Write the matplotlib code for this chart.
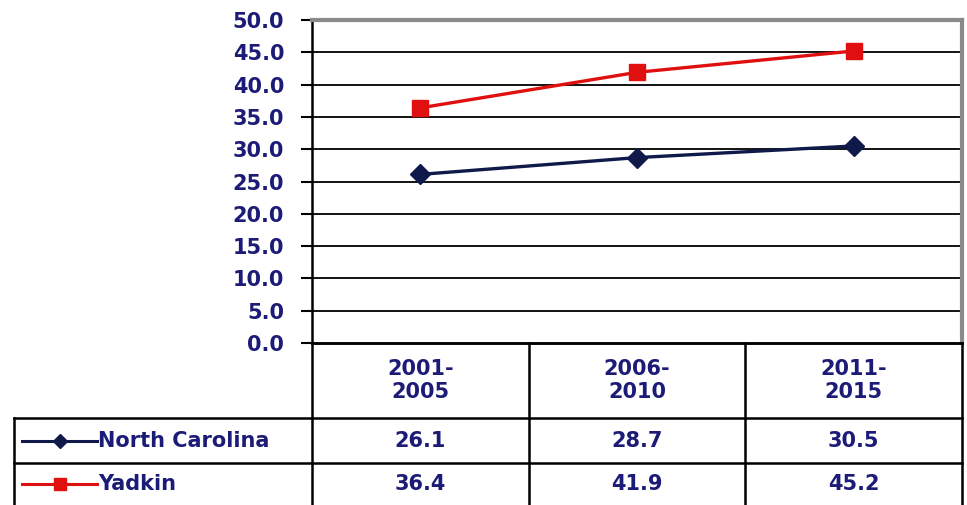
import matplotlib
matplotlib.use("Agg")
import matplotlib.pyplot as plt
from matplotlib.lines import Line2D

# —— data —— #
periods = ["2001-\n2005", "2006-\n2010", "2011-\n2015"]
nc_vals = [26.1, 28.7, 30.5]
yadkin_vals = [36.4, 41.9, 45.2]
series_names = ["North Carolina", "Yadkin"]
y_ticks = [0, 5, 10, 15, 20, 25, 30, 35, 40, 45, 50]

NAVY = "#0f1a4a"
RED = "#e01010"
TXT = "#1c1c78"
W, H = 967, 505

plt.rcParams["font.family"] = ["DejaVu Sans"]
fig = plt.figure(figsize=(W / 100, H / 100), dpi=100)

# pixel layout
px_left, px_right, px_top, px_zero = 312, 962, 20, 343
tbl_left = 14
row_bounds = [343, 418, 463, 510]

ax = fig.add_axes([px_left / W, (H - px_zero) / H,
                   (px_right - px_left) / W, (px_zero - px_top) / H])
x = list(range(len(periods)))
ax.plot(x, nc_vals, color=NAVY, lw=2.4, marker="D", ms=10, zorder=3)
ax.plot(x, yadkin_vals, color=RED, lw=2.4, marker="s", ms=11, zorder=3)
ax.set_xlim(-0.5, len(periods) - 0.5)
ax.set_ylim(0, 50)
ax.set_yticks(y_ticks)
ax.set_yticklabels([f"{v:.1f}" for v in y_ticks], fontsize=15,
                   fontweight="bold", color=TXT)
ax.tick_params(axis="y", length=8, width=1.5, color="black", pad=12)
ax.set_xticks([])
for v in y_ticks[1:-1]:
    ax.axhline(v, color="black", lw=1.3, zorder=1)
ax.spines["left"].set_linewidth(1.8)
ax.spines["bottom"].set_linewidth(1.8)
ax.spines["top"].set_color("#8a8a8a")
ax.spines["top"].set_linewidth(3)
ax.spines["right"].set_color("#8a8a8a")
ax.spines["right"].set_linewidth(3)

# —— data table underneath —— #
tax = fig.add_axes([tbl_left / W, 0, (px_right - tbl_left) / W, (H - px_zero) / H])
unit = (px_right - px_left) / len(periods)
xl = len(periods) - 0.5 - (px_right - tbl_left) / unit
tax.set_xlim(xl, len(periods) - 0.5)
tax.set_ylim(H, px_zero)
tax.axis("off")
lk = dict(color="black", lw=1.8, clip_on=False)
# horizontal rules
tax.plot([-0.5, len(periods) - 0.5], [row_bounds[0]] * 2, **lk)
for yb in row_bounds[1:3]:
    tax.plot([xl, len(periods) - 0.5], [yb, yb], **lk)
# vertical rules
tax.plot([xl, xl], [row_bounds[1], H], **lk)
for i in range(len(periods) + 1):
    tax.plot([i - 0.5, i - 0.5], [row_bounds[0], H], **lk)

tk = dict(fontsize=15, fontweight="bold", color=TXT, ha="center", va="center")
hdr_mid = (row_bounds[0] + row_bounds[1]) / 2
for i, p in enumerate(periods):
    tax.text(i, hdr_mid, p, linespacing=1.15, **tk)
rows = [nc_vals, yadkin_vals]
colors = [NAVY, RED]
markers = ["D", "s"]
for r, (vals, name) in enumerate(zip(rows, series_names)):
    ym = (row_bounds[r + 1] + min(row_bounds[r + 2], H)) / 2
    for i, v in enumerate(vals):
        tax.text(i, ym, f"{v:.1f}", **tk)
    x0 = xl + 8 / unit
    x1 = xl + 83 / unit
    tax.add_line(Line2D([x0, x1], [ym, ym], color=colors[r], lw=2.2))
    tax.add_line(Line2D([(x0 + x1) / 2], [ym], color=colors[r], marker=markers[r],
                        ms=7 if r == 0 else 8))
    tax.text(x1 + 1 / unit, ym, name, fontsize=15, fontweight="bold", color=TXT,
             ha="left", va="center")

fig.savefig("out.png", dpi=100)
